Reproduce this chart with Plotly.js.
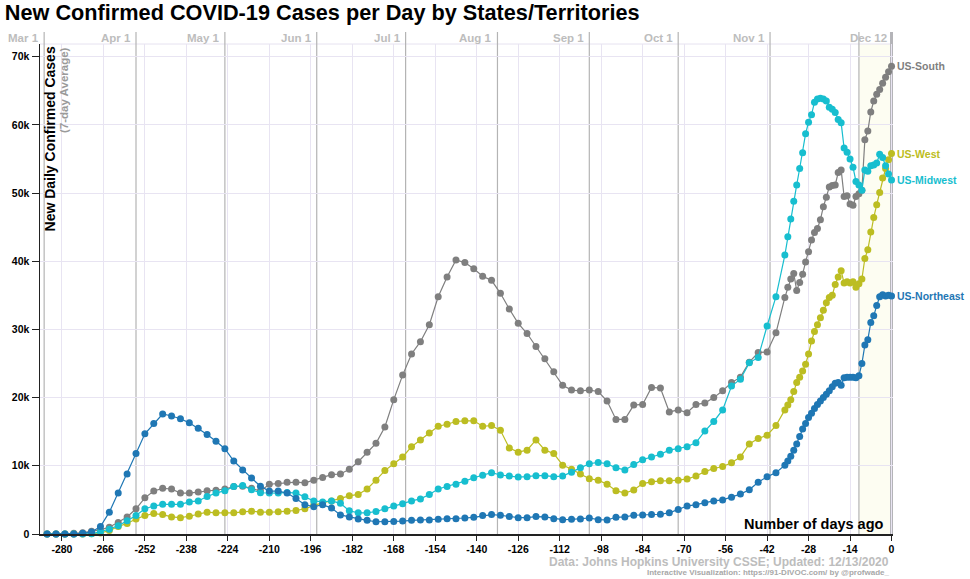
<!DOCTYPE html>
<html>
<head>
<meta charset="utf-8">
<script src="https://cdn.plot.ly/plotly-3.0.1.min.js"></script>
<style>html,body{margin:0;padding:0;background:#fff;}#chart{width:970px;height:579px;}</style>
</head>
<body>
<div id="chart"></div>
<script>
// Days ago (x values)
const days = [-285,-282,-279,-276,-273,-270,-267,-264,-261,-258,-255,-252,-249,-246,-243,-240,-237,-234,-231,-228,
  -225,-222,-219,-216,-213,-210,-207,-204,-201,-198,-195,-192,-189,-186,-183,-180,-177,-174,-171,-168,
  -165,-162,-159,-156,-153,-150,-147,-144,-141,-138,-135,-132,-129,-126,-123,-120,-117,-114,-111,-108,
  -105,-102,-99,-96,-93,-90,-87,-84,-81,-78,-75,-72,-69,-66,-63,-60,-57,-54,-51,-48,-45,-42,-39,
  -36,-35,-34,-33,-32,-31,-30,-29,-28,-27,-26,-25,-24,-23,-22,-21,-20,-19,-18,-17,-16,-15,-14,-13,-12,-11,
  -10,-9,-8,-7,-6,-5,-4,-3,-2,-1,0];

const seriesNames = ['US-South','US-West','US-Midwest','US-Northeast'];
const seriesColors = ['#7f7f7f','#bcbd22','#17becf','#1f77b4'];

const south = [0,0,0,100,200,400,600,1000,1700,2500,3700,5300,6300,6700,6600,6000,6000,6150,6350,6400,
  6600,6950,7000,6700,6300,7300,7400,7600,7600,7500,7900,8300,8700,8800,9500,10600,12000,13300,15700,19700,
  23300,26400,28200,30700,34800,37700,40200,39800,38900,37800,37200,35300,33000,30900,29400,27500,25700,23800,21800,21100,
  21000,21100,20900,19500,16800,16800,18900,19000,21500,21400,17900,18200,17800,19000,19200,20000,21000,22200,23000,25200,26600,26700,29500,
  34700,36200,37400,38200,35700,36900,38100,39900,41400,43100,44200,44800,46100,48000,49400,50900,51100,51200,53000,53400,49500,49600,48400,48200,49500,49900,
  50400,57800,59100,61900,63500,64500,65200,66100,67000,67800,68600];

const west = [0,0,0,0,0,50,150,500,1100,1550,2200,2700,3000,2850,2500,2400,2600,2950,3200,3100,
  3100,3100,3250,3350,3200,3200,3250,3350,3450,3700,4200,4600,4850,5200,5600,5800,6600,7900,9300,10300,
  11300,12800,13800,14800,15800,16100,16500,16600,16600,15800,15900,15200,12600,12000,12300,13800,12300,11800,10100,9500,
  8800,8100,7900,7300,6350,6000,6450,7400,7650,7800,7800,7900,8050,8500,9150,9600,9900,10450,11300,13200,14000,14500,15900,
  18200,18900,19700,20900,22200,23000,23900,24900,26400,28300,29700,30700,31700,32800,33900,34700,35000,36600,37700,38600,36800,37000,36800,37000,36200,36700,
  37400,40400,41700,44300,46400,48300,50100,52200,53600,54900,55800];

const midwest = [0,0,0,0,0,50,300,700,1200,1950,2700,3700,4100,4350,4350,4350,4700,4850,5500,6000,
  6350,6950,7100,6500,6050,6000,6000,6100,6000,5450,4850,4700,4850,4500,3400,3100,3100,3300,3700,4100,
  4450,4850,5150,5800,6600,6950,7300,7750,8250,8600,9000,8650,8500,8350,8400,8550,8550,8400,8500,9050,
  9700,10300,10500,10300,9700,9400,10200,10900,11300,11700,12300,12500,12800,13400,15100,16500,18200,21700,22700,25100,25900,30500,34800,
  40900,43600,46200,48800,51200,53600,55900,58700,60400,61500,63300,63800,63900,63800,63500,62600,62300,61800,60800,60300,56600,56000,55000,53800,51700,51200,
  50400,53400,53200,54000,54100,54400,55700,55200,54000,52800,51900];

const northeast = [0,0,0,0,100,300,1100,3200,6000,8800,11800,14700,16200,17600,17300,16900,16300,15500,14600,13600,
  12500,10700,9400,8200,7000,6300,6300,6000,5200,4300,4000,4300,3800,2800,2500,2200,2000,1800,1800,1850,
  1900,2000,2050,2050,2150,2250,2250,2350,2450,2700,2850,2750,2550,2400,2400,2550,2500,2250,2100,2150,
  2200,2350,2100,2050,2450,2500,2750,2800,2850,2900,3100,3600,4100,4300,4600,4850,5000,5400,5850,6500,7600,8400,9000,
  10100,10700,11400,12300,13200,14300,15400,16200,17100,17700,18400,19000,19500,20000,20500,21000,21600,22100,22200,21800,22900,23000,23000,23000,22900,23200,
  25000,27700,28500,31000,32000,33500,34800,35100,34900,35000,34900];

const seriesValues = [south, west, midwest, northeast];

// Axis ticks
const xTickVals = [-280,-266,-252,-238,-224,-210,-196,-182,-168,-154,-140,-126,-112,-98,-84,-70,-56,-42,-28,-14,0];
const yTickVals = [0,10000,20000,30000,40000,50000,60000,70000];
const yTickText = ['0','10k','20k','30k','40k','50k','60k','70k'];

// Calendar markers (days ago)
const monthLabels = ['Mar 1','Apr 1','May 1','Jun 1','Jul 1','Aug 1','Sep 1','Oct 1','Nov 1','Dec 12'];
const monthDays = [-286,-255,-225,-194,-164,-133,-102,-72,-41,0];
const dec1Day = -11;

const FONT = 'Liberation Sans, Arial, Helvetica, sans-serif';

const traces = seriesNames.map((name, i) => ({
  type: 'scatter', mode: 'lines+markers', name: name,
  x: days, y: seriesValues[i],
  line: {color: seriesColors[i], width: 1.2},
  marker: {color: seriesColors[i], size: 7},
  cliponaxis: false, showlegend: false, hoverinfo: 'x+y'
}));

const shapes = [];
shapes.push({type:'rect', xref:'x', yref:'paper', x0: dec1Day, x1: 0, y0: 0, y1: 1,
  fillcolor:'#fdfdf2', line:{width:0}, layer:'below'});
shapes.push({type:'line', xref:'paper', yref:'paper', x0:0, x1:1, y0:1, y1:1,
  line:{color:'#e6e2f0', width:1}, layer:'below'});
monthDays.forEach((d, i) => {
  const last = (i === monthDays.length - 1);
  shapes.push({type:'line', xref:'x', yref:'paper', x0:d, x1:d, y0:0, y1:1.0245,
    line:{color: last ? '#b4b4b8' : '#b4b4b4', width: last ? 3 : 1.2}, layer:'between'});
});
shapes.push({type:'line', xref:'x', yref:'paper', x0:dec1Day, x1:dec1Day, y0:0, y1:1.0245,
  line:{color:'#b4b4b4', width:1.2}, layer:'between'});

const annotations = [];
monthDays.forEach((d, i) => {
  annotations.push({xref:'x', yref:'paper', x:d, y:1.0122, xanchor:'right', yanchor:'middle', xshift:-3,
    text: monthLabels[i], showarrow:false, font:{family:FONT, size:11.5, color:'#bdbdbd', weight:'bold'}});
});
seriesNames.forEach((name, i) => {
  const vals = seriesValues[i];
  annotations.push({xref:'x', yref:'y', x: days[days.length-1], y: vals[vals.length-1],
    xanchor:'left', yanchor:'middle', xshift:3, text:name, showarrow:false,
    font:{family:FONT, size:10.5, color:seriesColors[i], weight:'bold'}});
});
annotations.push({xref:'paper', yref:'paper', x:0.0117, y:1.0, xanchor:'center', yanchor:'top', textangle:-90,
  text:'New Daily Confirmed Cases', showarrow:false, font:{family:FONT, size:14, color:'#000', weight:'bold'}});
annotations.push({xref:'paper', yref:'paper', x:0.0282, y:0.998, xanchor:'center', yanchor:'top', textangle:-90,
  text:'(7-day Average)', showarrow:false, font:{family:FONT, size:11.5, color:'#9a9a9a', weight:'bold'}});
annotations.push({xref:'paper', yref:'paper', x:0.9918, y:0.0204, xanchor:'right', yanchor:'middle',
  text:'Number of days ago', showarrow:false, font:{family:FONT, size:14.5, color:'#000', weight:'bold'}});
annotations.push({xref:'paper', yref:'paper', x:0.9973, y:-0.0575, xanchor:'right', yanchor:'middle',
  text:'Data: Johns Hopkins University CSSE; Updated: 12/13/2020', showarrow:false,
  font:{family:FONT, size:12, color:'#bdbdbd', weight:'bold'}});
annotations.push({xref:'paper', yref:'paper', x:0.9973, y:-0.0795, xanchor:'right', yanchor:'middle',
  text:'Interactive Visualization: https://91-DIVOC.com/ by @profwade_', showarrow:false,
  font:{family:FONT, size:8, color:'#a8a8a8', weight:'bold'}});

const layout = {
  width: 970, height: 579,
  margin: {l:40, r:77, t:44, b:45},
  paper_bgcolor: '#ffffff', plot_bgcolor: 'rgba(0,0,0,0)',
  title: {text:'New Confirmed COVID-19 Cases per Day by States/Territories', xref:'container', yref:'container',
    x:0.005, xanchor:'left', y:0.978, yanchor:'middle', font:{family:FONT, size:21.7, color:'#000', weight:'bold'}},
  xaxis: {range:[-287.4, 0.5], tickvals:xTickVals, ticktext:xTickVals.map(String), ticks:'outside', ticklen:5,
    tickcolor:'#222', showline:true, linecolor:'#222', linewidth:1.5, showgrid:true, gridcolor:'#e8e4f2', gridwidth:1,
    zeroline:false, tickfont:{family:FONT, size:10.5, color:'#000', weight:'bold'}, fixedrange:true},
  yaxis: {range:[0, 71860], tickvals:yTickVals, ticktext:yTickText, ticks:'outside', ticklen:7,
    tickcolor:'#222', showline:true, linecolor:'#222', linewidth:1.5, showgrid:true, gridcolor:'#e8e4f2', gridwidth:1,
    zeroline:false, tickfont:{family:FONT, size:10.5, color:'#000', weight:'bold'}, fixedrange:true},
  shapes: shapes,
  annotations: annotations,
  showlegend: false,
  font: {family: FONT}
};

Plotly.newPlot('chart', traces, layout, {displayModeBar:false, staticPlot:true});
</script>
</body>
</html>
